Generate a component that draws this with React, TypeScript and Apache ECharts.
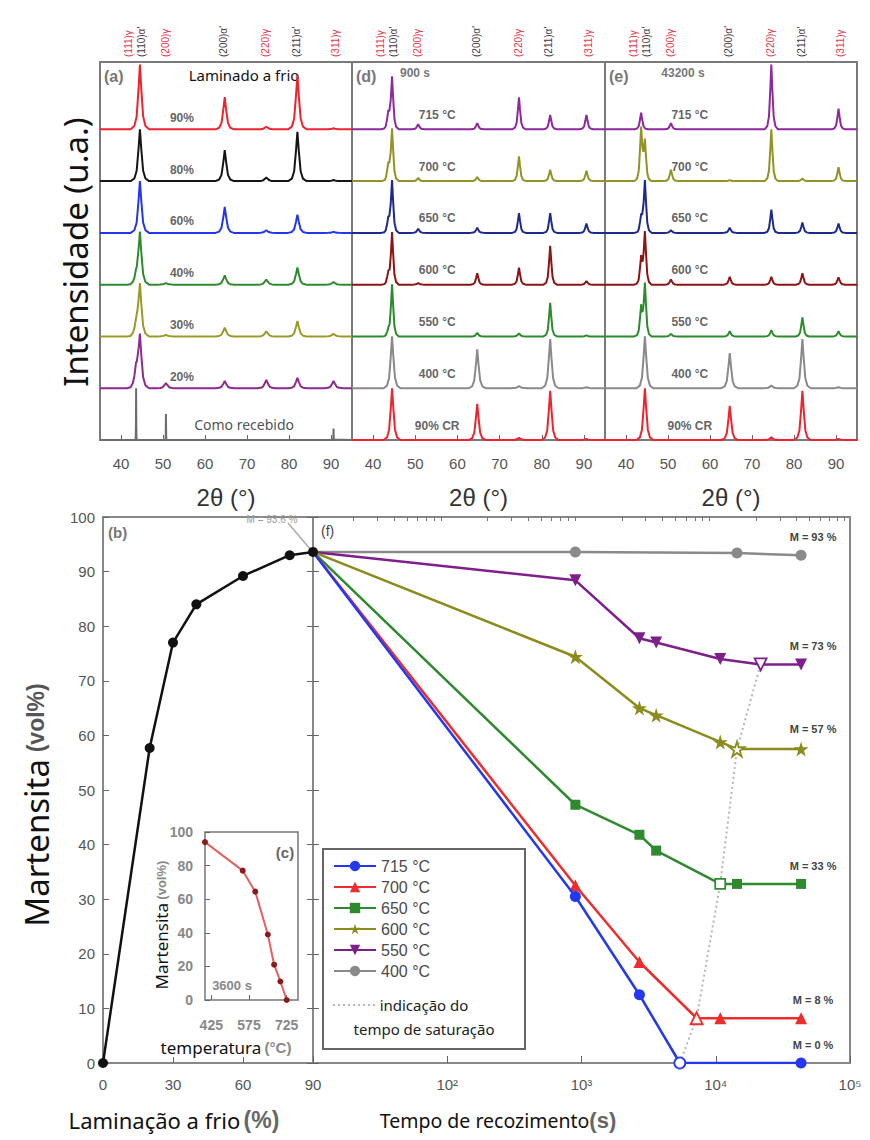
import React, { useEffect, useRef } from "react";
import * as echarts from "echarts";

// ---------------- XRD data (top panels) ----------------
const PEAK_2THETA = [43.6, 44.5, 50.7, 64.7, 74.6, 82.0, 90.6];
const HKL_LABELS = ["(111)γ", "(110)α'", "(200)γ", "(200)α'", "(220)γ", "(211)α'", "(311)γ"];
const HKL_IS_ALPHA = [false, true, false, true, false, true, false];
const HKL_LABEL_2THETA = [41.7, 44.9, 50.5, 64.5, 74.5, 81.7, 91.0];
const THETA_TICKS = [40, 50, 60, 70, 80, 90];
const PEAK_PROFILE = [[-1, 0], [-0.6, 0.05], [-0.35, 0.2], [-0.15, 0.62], [0, 1], [0.15, 0.62], [0.35, 0.2], [0.6, 0.05], [1, 0]];

// panel (a) — bottom to top
const A_LABELS = ["Como recebido", "20%", "30%", "40%", "60%", "80%", "90%"];
const A_COLORS = ["#6d6d6d", "#8e2a8e", "#9a9a2a", "#2f8a2f", "#2336ee", "#151515", "#ec2430"];
const A_WIDTHS = [0.15, 2.2, 2.2, 2.2, 2.2, 2.2, 2.2];
const A_HEIGHTS = [
  [1.0, 0, 0.5, 0, 0, 0, 0.22],
  [0.35, 1.0, 0.1, 0.14, 0.16, 0.2, 0.14],
  [0.2, 1.0, 0.03, 0.17, 0.1, 0.3, 0.05],
  [0.15, 1.0, 0.03, 0.18, 0.1, 0.33, 0.05],
  [0, 1.0, 0, 0.5, 0.05, 0.35, 0.02],
  [0, 1.0, 0, 0.6, 0.07, 0.95, 0.02],
  [0, 1.25, 0, 0.62, 0.05, 1.05, 0.02],
];

// panels (d) 900 s and (e) 43200 s — bottom to top
const DE_LABELS = ["90% CR", "400 °C", "550 °C", "600 °C", "650 °C", "700 °C", "715 °C"];
const DE_COLORS = ["#ea2530", "#8a8a8a", "#2c8c2c", "#8c1414", "#1d2a8c", "#929226", "#8e2a9a"];
const DE_WIDTHS = [2.0, 2.0, 1.6, 1.6, 1.6, 1.6, 1.6];
const D_HEIGHTS = [
  [0, 1.0, 0, 0.7, 0.04, 0.95, 0.02],
  [0, 1.0, 0, 0.75, 0.04, 0.95, 0.02],
  [0.1, 1.0, 0, 0.07, 0.06, 0.65, 0.02],
  [0.2, 1.0, 0.03, 0.22, 0.33, 0.75, 0.07],
  [0.25, 1.0, 0.08, 0.1, 0.38, 0.38, 0.18],
  [0.3, 1.0, 0.06, 0.08, 0.48, 0.22, 0.2],
  [0.3, 1.0, 0.1, 0.12, 0.62, 0.28, 0.28],
];
const E_HEIGHTS = [
  [0, 1.0, 0, 0.66, 0.05, 0.95, 0.02],
  [0, 1.0, 0, 0.68, 0.05, 0.95, 0.02],
  [0.55, 1.0, 0.05, 0.1, 0.12, 0.37, 0.1],
  [0.5, 1.0, 0.1, 0.15, 0.15, 0.22, 0.14],
  [0.3, 1.0, 0.05, 0.1, 0.45, 0.2, 0.18],
  [1.0, 0.75, 0.22, 0.02, 1.0, 0.05, 0.27],
  [0.32, 0, 0.12, 0, 1.25, 0, 0.4],
];

// ---------------- Martensite data (bottom panels) ----------------
const B_ROLLING = [0, 20, 30, 40, 60, 80, 90];
const B_MARTENSITE = [0, 57.7, 77, 84, 89.2, 93, 93.6];

const F_NAMES = ["715 °C", "700 °C", "650 °C", "600 °C", "550 °C", "400 °C"];
const F_COLORS = ["#2438f0", "#ee2c2c", "#2f8a2f", "#8c8c1c", "#7e1f8c", "#8a8a8a"];
const T_715 = [10, 900, 2700, 5400, 43200];
const V_715 = [93.6, 30.5, 12.5, 0, 0];
const T_700 = [10, 900, 2700, 7200, 10800, 43200];
const V_700 = [93.6, 32.5, 18.5, 8.2, 8.2, 8.2];
const T_650 = [10, 900, 2700, 3600, 10800, 14400, 43200];
const V_650 = [93.6, 47.3, 41.8, 38.9, 32.8, 32.8, 32.8];
const T_600 = [10, 900, 2700, 3600, 10800, 14400, 43200];
const V_600 = [93.6, 74.4, 65, 63.7, 58.8, 57.5, 57.5];
const T_550 = [10, 900, 2700, 3600, 10800, 21600, 43200];
const V_550 = [93.6, 88.4, 77.8, 77, 74, 73, 73];
const T_400 = [10, 900, 14400, 43200];
const V_400 = [93.6, 93.6, 93.4, 93];
const F_SAT_INDEX = [3, 3, 4, 5, 5, -1];
const F_M_LABELS = ["M = 0 %", "M = 8 %", "M = 33 %", "M = 57 %", "M = 73 %", "M = 93 %"];
const SAT_T = [5400, 7200, 10800, 14400, 21600];
const SAT_V = [0, 8.2, 32.8, 57.5, 73];

const C_TEMP = [400, 550, 600, 650, 675, 700, 725];
const C_MARTENSITE = [94, 77, 64.5, 39, 21, 11, 0];
const C_TICKS = [425, 575, 725];

const NARROW = "'Liberation Sans Narrow', 'Liberation Sans', Arial, sans-serif";
const SANS = "'Liberation Sans', Arial, sans-serif";
const NOTO = "'Noto Sans', 'Open Sans', sans-serif";

const STAR = "path://M50,0L61.2,34.5L97.6,34.5L68.2,55.9L79.4,90.5L50,69.1L20.6,90.5L31.8,55.9L2.4,34.5L38.8,34.5Z";
const INV_TRI = "path://M0,0L20,0L10,17Z";
const F_SYMBOLS = ["circle", "triangle", "rect", STAR, INV_TRI, "circle"];
const F_SIZES = [11, 12, 10, 15, 12, 11];

function profileAt(t: number) {
  if (t <= -1 || t >= 1) return 0;
  for (let i = 0; i < PEAK_PROFILE.length - 1; i++) {
    const [t0, v0] = PEAK_PROFILE[i];
    const [t1, v1] = PEAK_PROFILE[i + 1];
    if (t >= t0 && t <= t1) return v0 + ((t - t0) / (t1 - t0)) * (v1 - v0);
  }
  return 0;
}

function buildTrace(heights: number[], w: number, offset: number) {
  const xs = new Set<number>([35, 95]);
  PEAK_2THETA.forEach((p, k) => {
    if (heights[k] > 0) PEAK_PROFILE.forEach(([t]) => xs.add(+(p + t * w).toFixed(4)));
  });
  const sorted = [...xs].filter((x) => x >= 35 && x <= 95).sort((a, b) => a - b);
  return sorted.map((x) => [
    x,
    offset + PEAK_2THETA.reduce((s, p, k) => s + heights[k] * profileAt((x - p) / w), 0),
  ]);
}

const TOP = 62;
const TOP_H = 378;
const PANEL_LEFT = [100, 352, 605];
const PANEL_W = [252, 253, 252];

export default function App() {
  const ref = useRef<HTMLDivElement>(null);

  useEffect(() => {
    if (!ref.current) return;
    const chart = echarts.init(ref.current, null, { renderer: "svg" });

    const grids: any[] = [
      ...PANEL_LEFT.map((l, i) => ({ left: l, top: TOP, width: PANEL_W[i], height: TOP_H, show: true, borderColor: "#7a7a7a", borderWidth: 2, backgroundColor: "transparent" })),
      { left: 103, top: 517, width: 210, height: 546, show: true, borderColor: "#888", borderWidth: 2, backgroundColor: "transparent" },
      { left: 313, top: 517, width: 537, height: 546, show: true, borderColor: "#888", borderWidth: 2, backgroundColor: "transparent" },
      { left: 205, top: 832, width: 93, height: 168, show: true, borderColor: "#777", borderWidth: 1.5, backgroundColor: "transparent" },
    ];

    const thetaAxis = (gi: number) => ({
      type: "value", gridIndex: gi, min: 35, max: 95,
      axisLine: { show: false },
      axisTick: { show: true, inside: true, length: 5, customValues: THETA_TICKS, lineStyle: { color: "#666" } },
      axisLabel: { customValues: THETA_TICKS, fontSize: 15, color: "#555", fontFamily: NARROW, margin: 16 },
      splitLine: { show: false },
      name: "2θ (°)", nameLocation: "middle", nameGap: 45,
      nameTextStyle: { fontSize: 24, color: "#333", fontFamily: NARROW },
    });

    const MINOR: number[] = [];
    [10, 100, 1000, 10000].forEach((d) => [2, 3, 4, 5, 6, 7, 8, 9].forEach((m) => MINOR.push(m * d)));
    const SUP: Record<number, string> = { 100: "10²", 1000: "10³", 10000: "10⁴", 100000: "10⁵" };

    const xAxis: any[] = [
      thetaAxis(0), thetaAxis(1), thetaAxis(2),
      {
        type: "value", gridIndex: 3, min: 0, max: 90, interval: 30,
        axisLine: { show: false },
        axisTick: { inside: true, length: 6, lineStyle: { color: "#666" } },
        axisLabel: { fontSize: 15, color: "#555", fontFamily: NARROW, margin: 14 },
        splitLine: { show: false },
      },
      {
        type: "log", gridIndex: 4, min: 10, max: 100000, logBase: 10,
        axisLine: { show: false },
        axisTick: { inside: true, length: 7, lineStyle: { color: "#666" } },
        axisLabel: { fontSize: 15, color: "#555", fontFamily: NARROW, margin: 14, formatter: (v: number) => SUP[Math.round(v)] || "" },
        splitLine: { show: false }, minorTick: { show: false },
      },
      {
        type: "log", gridIndex: 4, min: 10, max: 100000, logBase: 10,
        axisLine: { show: false },
        axisTick: { inside: true, length: 4, customValues: MINOR, lineStyle: { color: "#777" } },
        axisLabel: { show: false },
        splitLine: { show: false },
      },
      {
        type: "value", gridIndex: 5, min: 400, max: 770,
        axisLine: { show: false },
        axisTick: { inside: true, length: 5, customValues: C_TICKS, lineStyle: { color: "#666" } },
        axisLabel: { customValues: C_TICKS, fontSize: 14, fontWeight: "bold", color: "#888", fontFamily: NARROW, margin: 18 },
        splitLine: { show: false },
      },
    ];

    const hiddenY = (gi: number) => ({ type: "value", gridIndex: gi, min: 0, max: 7.3, show: false, splitLine: { show: false } });
    const yAxis: any[] = [
      hiddenY(0), hiddenY(1), hiddenY(2),
      {
        type: "value", gridIndex: 3, min: 0, max: 100, interval: 10,
        axisLine: { show: false },
        axisTick: { inside: true, length: 6, lineStyle: { color: "#666" } },
        axisLabel: { fontSize: 15, color: "#555", fontFamily: NARROW, margin: 8 },
        splitLine: { show: false },
      },
      {
        type: "value", gridIndex: 3, min: 0, max: 100, interval: 10, position: "right",
        axisLine: { show: false },
        axisTick: { inside: true, length: 6, lineStyle: { color: "#666" } },
        axisLabel: { show: false }, splitLine: { show: false },
      },
      {
        type: "value", gridIndex: 4, min: 0, max: 100, interval: 10,
        axisLine: { show: false },
        axisTick: { inside: true, length: 6, lineStyle: { color: "#666" } },
        axisLabel: { show: false }, splitLine: { show: false },
      },
      {
        type: "value", gridIndex: 5, min: 0, max: 100, interval: 20,
        axisLine: { show: false },
        axisTick: { inside: true, length: 5, lineStyle: { color: "#666" } },
        axisLabel: { fontSize: 14, fontWeight: "bold", color: "#888", fontFamily: NARROW, margin: 12 },
        splitLine: { show: false },
      },
    ];

    const series: any[] = [];
    const panels = [
      { key: "a", labels: A_LABELS, colors: A_COLORS, widths: A_WIDTHS, heights: A_HEIGHTS, labelX: 54.5, labelDy: 0.22 },
      { key: "d", labels: DE_LABELS, colors: DE_COLORS, widths: DE_WIDTHS, heights: D_HEIGHTS, labelX: 55.2, labelDy: 0.28 },
      { key: "e", labels: DE_LABELS, colors: DE_COLORS, widths: DE_WIDTHS, heights: E_HEIGHTS, labelX: 55.2, labelDy: 0.28 },
    ];
    panels.forEach((p, pi) => {
      p.heights.forEach((h, i) => {
        series.push({
          type: "line", name: `${p.key}-${p.labels[i]}`, xAxisIndex: pi, yAxisIndex: pi,
          data: buildTrace(h, p.widths[i], i), showSymbol: false, symbol: "none",
          lineStyle: { color: p.colors[i], width: 2 }, itemStyle: { color: p.colors[i] },
          z: 3, silent: true,
        });
      });
      series.push({
        type: "scatter", name: `${p.key}-labels`, xAxisIndex: pi, yAxisIndex: pi,
        symbolSize: 1, itemStyle: { color: "transparent" }, z: 4, silent: true,
        data: p.labels.map((lab, i) => {
          const special = lab === "Como recebido";
          return {
            value: special ? [69.3, i + 0.29, lab] : [p.labelX, i + p.labelDy, lab],
            label: special
              ? { fontFamily: NOTO, fontWeight: "normal", fontSize: 14, color: "#222" }
              : undefined,
          };
        }),
        label: {
          show: true, position: "inside", formatter: (d: any) => d.value[2],
          fontSize: 12, fontWeight: "bold", color: "#3a3a3a", fontFamily: SANS,
        },
      });
    });

    // (b)
    series.push({
      type: "line", name: "b", xAxisIndex: 3, yAxisIndex: 3,
      data: B_ROLLING.map((x, i) => [x, B_MARTENSITE[i]]),
      symbol: "circle", symbolSize: 10, lineStyle: { color: "#111", width: 2.5 }, itemStyle: { color: "#111" }, z: 6,
    });

    // (f)
    const F_T = [T_715, T_700, T_650, T_600, T_550, T_400];
    const F_V = [V_715, V_700, V_650, V_600, V_550, V_400];
    F_NAMES.forEach((name, si) => {
      const color = F_COLORS[si];
      const T = F_T[si];
      const V = F_V[si];
      series.push({
        type: "line", name, xAxisIndex: 4, yAxisIndex: 5,
        symbol: F_SYMBOLS[si], symbolSize: F_SIZES[si],
        lineStyle: { color, width: 2.5 }, itemStyle: { color },
        z: 5 + (5 - si) * 0.1,
        data: T.map((t, i) => {
          const item: any = { value: [t, V[i]] };
          if (i === 0) item.symbol = "none";
          if (i === F_SAT_INDEX[si]) item.itemStyle = { color: "#fff", borderColor: color, borderWidth: 1.8 };
          if (i === T.length - 1)
            item.label = {
              show: true, position: "top", distance: 7, offset: [12, 0], formatter: F_M_LABELS[si],
              fontSize: 11, fontWeight: "bold", color: "#444", fontFamily: NARROW,
            };
          return item;
        }),
      });
    });
    series.push({
      type: "line", name: "saturacao", xAxisIndex: 4, yAxisIndex: 5,
      data: SAT_T.map((t, i) => [t, SAT_V[i]]), symbol: "none",
      lineStyle: { color: "#b4b4c6", width: 2, type: [2, 3] }, z: 4,
    });

    // (c) inset
    series.push({
      type: "line", name: "c", xAxisIndex: 6, yAxisIndex: 6,
      data: C_TEMP.map((t, i) => [t, C_MARTENSITE[i]]),
      symbol: "circle", symbolSize: 6, lineStyle: { color: "#e26262", width: 2 }, itemStyle: { color: "#8b1a1a" }, z: 7,
    });

    // ---------- graphics ----------
    const g: any[] = [];
    PANEL_LEFT.forEach((l, pi) => {
      HKL_LABELS.forEach((lab, k) => {
        g.push({
          type: "text", x: l + ((HKL_LABEL_2THETA[k] - 35) / 60) * PANEL_W[pi], y: 57, rotation: Math.PI / 2,
          style: {
            text: lab, fill: HKL_IS_ALPHA[k] ? "#4a3840" : "#e23a4a", fontSize: 10, fontFamily: SANS,
            align: "left", verticalAlign: "middle",
          },
        });
      });
    });
    const txt = (x: number, y: number, text: string, style: any, extra: any = {}) =>
      g.push({ type: "text", x, y, ...extra, style: { text, align: "center", verticalAlign: "middle", ...style } });

    txt(104, 76, "(a)", { align: "left", fontSize: 16, fontWeight: "bold", fill: "#777", fontFamily: SANS });
    txt(244, 75, "Laminado a frio", { fontSize: 15, fill: "#111", fontFamily: NOTO });
    txt(356, 76, "(d)", { align: "left", fontSize: 16, fontWeight: "bold", fill: "#777", fontFamily: SANS });
    txt(415, 73, "900 s", { fontSize: 12, fontWeight: "bold", fill: "#777", fontFamily: SANS });
    txt(609, 76, "(e)", { align: "left", fontSize: 16, fontWeight: "bold", fill: "#777", fontFamily: SANS });
    txt(683, 73, "43200 s", { fontSize: 12, fontWeight: "bold", fill: "#777", fontFamily: SANS });

    txt(75, 252, "Intensidade (u.a.)", { fontSize: 33, fill: "#111", fontFamily: NOTO }, { rotation: Math.PI / 2 });
    g.push({
      type: "text", x: 36, y: 805, rotation: Math.PI / 2,
      style: {
        text: "{a|Martensita}  {b|(vol%)}", align: "center", verticalAlign: "middle",
        rich: {
          a: { fontSize: 33, fill: "#111", fontFamily: NOTO },
          b: { fontSize: 23, fontWeight: "bold", fill: "#555", fontFamily: NARROW },
        },
      },
    });
    g.push({
      type: "text", x: 174, y: 1120,
      style: {
        text: "{a|Laminação a frio} {b|(%)}", align: "center", verticalAlign: "middle",
        rich: {
          a: { fontSize: 22, fill: "#111", fontFamily: NOTO },
          b: { fontSize: 23, fontWeight: "bold", fill: "#666", fontFamily: NARROW },
        },
      },
    });
    g.push({
      type: "text", x: 498, y: 1120,
      style: {
        text: "{a|Tempo de recozimento}{b|(s)}", align: "center", verticalAlign: "middle",
        rich: {
          a: { fontSize: 19.5, fill: "#111", fontFamily: NOTO },
          b: { fontSize: 22, fontWeight: "bold", fill: "#666", fontFamily: NARROW },
        },
      },
    });

    txt(108, 532, "(b)", { align: "left", fontSize: 15, fontWeight: "bold", fill: "#777", fontFamily: SANS });
    txt(321, 531, "(f)", { align: "left", fontSize: 14, fill: "#444", fontFamily: SANS });
    txt(272, 519, "M = 93.6 %", { fontSize: 10, fill: "#9a9a9a", fontFamily: NARROW });
    g.push({ type: "line", shape: { x1: 288, y1: 523, x2: 311, y2: 550 }, style: { stroke: "#aaa", lineWidth: 1.5 } });

    // inset texts
    g.push({
      type: "text", x: 161, y: 925, rotation: Math.PI / 2,
      style: {
        text: "{a|Martensita} {b|(vol%)}", align: "center", verticalAlign: "middle",
        rich: {
          a: { fontSize: 17, fill: "#111", fontFamily: NOTO },
          b: { fontSize: 13, fontWeight: "bold", fill: "#888", fontFamily: NARROW },
        },
      },
    });
    g.push({
      type: "text", x: 226, y: 1047,
      style: {
        text: "{a|temperatura} {b|(°C)}", align: "center", verticalAlign: "middle",
        rich: {
          a: { fontSize: 17, fill: "#111", fontFamily: NOTO },
          b: { fontSize: 15, fontWeight: "bold", fill: "#888", fontFamily: NARROW },
        },
      },
    });
    txt(285, 852, "(c)", { fontSize: 15, fontWeight: "bold", fill: "#666", fontFamily: SANS });
    txt(232, 985, "3600 s", { fontSize: 13, fontWeight: "bold", fill: "#888", fontFamily: SANS });

    // legend box + dotted entry
    g.push({ type: "rect", shape: { x: 323, y: 849, width: 202, height: 200 }, style: { fill: "transparent", stroke: "#666", lineWidth: 2 } });
    g.push({ type: "line", shape: { x1: 333, y1: 1005, x2: 375, y2: 1005 }, style: { stroke: "#b4b4c6", lineWidth: 2, lineDash: [2, 3] } });
    g.push({
      type: "text", x: 424, y: 1017,
      style: {
        text: "indicação do\ntempo de saturação", align: "center", verticalAlign: "middle",
        fontSize: 15, lineHeight: 24, fill: "#222", fontFamily: NOTO,
      },
    });

    chart.setOption({
      animation: false,
      backgroundColor: "#ffffff",
      grid: grids,
      xAxis,
      yAxis,
      series,
      legend: {
        data: F_NAMES, orient: "vertical", left: 333, top: 858, itemWidth: 42, itemHeight: 13, itemGap: 5,
        padding: 0, textStyle: { fontSize: 16, color: "#4a4a4a", fontFamily: SANS }, selectedMode: false,
      },
      graphic: g,
    });

    return () => chart.dispose();
  }, []);

  return <div ref={ref} style={{ position: "absolute", left: 0, top: 0, width: 870, height: 1140 }} />;
}
